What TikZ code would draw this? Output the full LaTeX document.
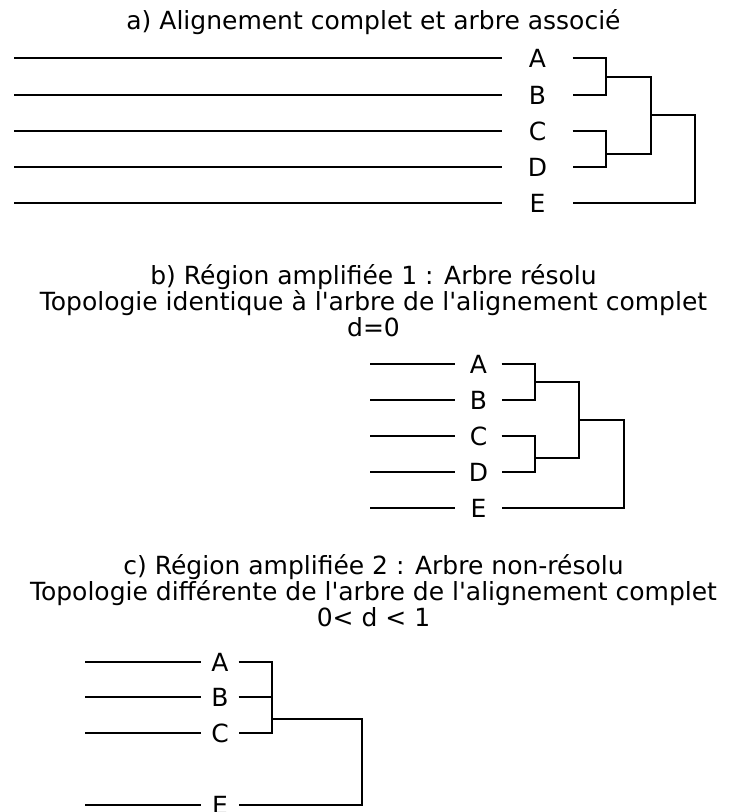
\documentclass[tikz,border=0pt]{standalone}
\usepackage{fontspec}
\newfontfamily\police{DejaVu Sans}
\newcommand\policetitre{\police\fontsize{25}{26}\selectfont\lineskiplimit=-20pt\relax}
\begin{document}
\begin{tikzpicture}[x=1pt, y=-1pt, line width=1.2pt,
    titre/.style={align=center, font=\policetitre},
    feuille/.style={inner sep=0pt, font=\police\fontsize{25}{25}\selectfont}]
    \useasboundingbox (0,0) rectangle (747,812);

    % Part a: full alignment and its tree
    \node[titre] (ta) at (373.5,22) {a) Alignement complet et arbre associé};
    \foreach \n/\y in {A/58, B/95, C/131, D/167, E/203} {
      \coordinate (aL\n) at (14,\y);
      \node[feuille, minimum width=69pt] (a\n) at (537.5,\y) {\n};
      \draw (aL\n) -- (a\n.west);
    }
    \coordinate (aAB) at (606,77);
    \coordinate (aCD) at (606,154);
    \coordinate (aABCD) at (651,115);
    \coordinate (aR) at (695,115);
    \draw (aA.east) -| (aAB) |- (aB.east);
    \draw (aC.east) -| (aCD) |- (aD.east);
    \draw (aAB) -| (aABCD) |- (aCD);
    \draw (aABCD) -| (aR) |- (aE.east);

    % Part b: region 1, resolved tree
    \node[titre] (tb) at (373.5,301) {b) Région amplifiée 1 : Arbre résolu\\
      Topologie identique à l'arbre de l'alignement complet\\ d=0};
    \foreach \n/\y in {A/364, B/400, C/436, D/472, E/508} {
      \coordinate (bL\n) at (370,\y);
      \node[feuille, minimum width=45pt] (b\n) at (478.5,\y) {\n};
      \draw (bL\n) -- (b\n.west);
    }
    \coordinate (bAB) at (535,382);
    \coordinate (bCD) at (535,458);
    \coordinate (bABCD) at (579,420);
    \coordinate (bR) at (624,420);
    \draw (bA.east) -| (bAB) |- (bB.east);
    \draw (bC.east) -| (bCD) |- (bD.east);
    \draw (bAB) -| (bABCD) |- (bCD);
    \draw (bABCD) -| (bR) |- (bE.east);

    % Part c: region 2, unresolved tree
    \node[titre] (tc) at (373.5,591) {c) Région amplifiée 2 : Arbre non-résolu\\
      Topologie différente de l'arbre de l'alignement complet\\ 0< d < 1};
    \foreach \n/\y in {A/662, B/697, C/733, E/805} {
      \coordinate (cL\n) at (85,\y);
      \node[feuille, minimum width=36pt] (c\n) at (220,\y) {\n};
      \draw (cL\n) -- (c\n.west);
    }
    \coordinate (cABC) at (272,719);
    \coordinate (cR) at (362,719);
    \draw (cA.east) -| (cABC) |- (cC.east);
    \draw (cB.east) -- (cB.east -| cABC);
    \draw (cABC) -| (cR) |- (cE.east);
  \end{tikzpicture}
\end{document}
